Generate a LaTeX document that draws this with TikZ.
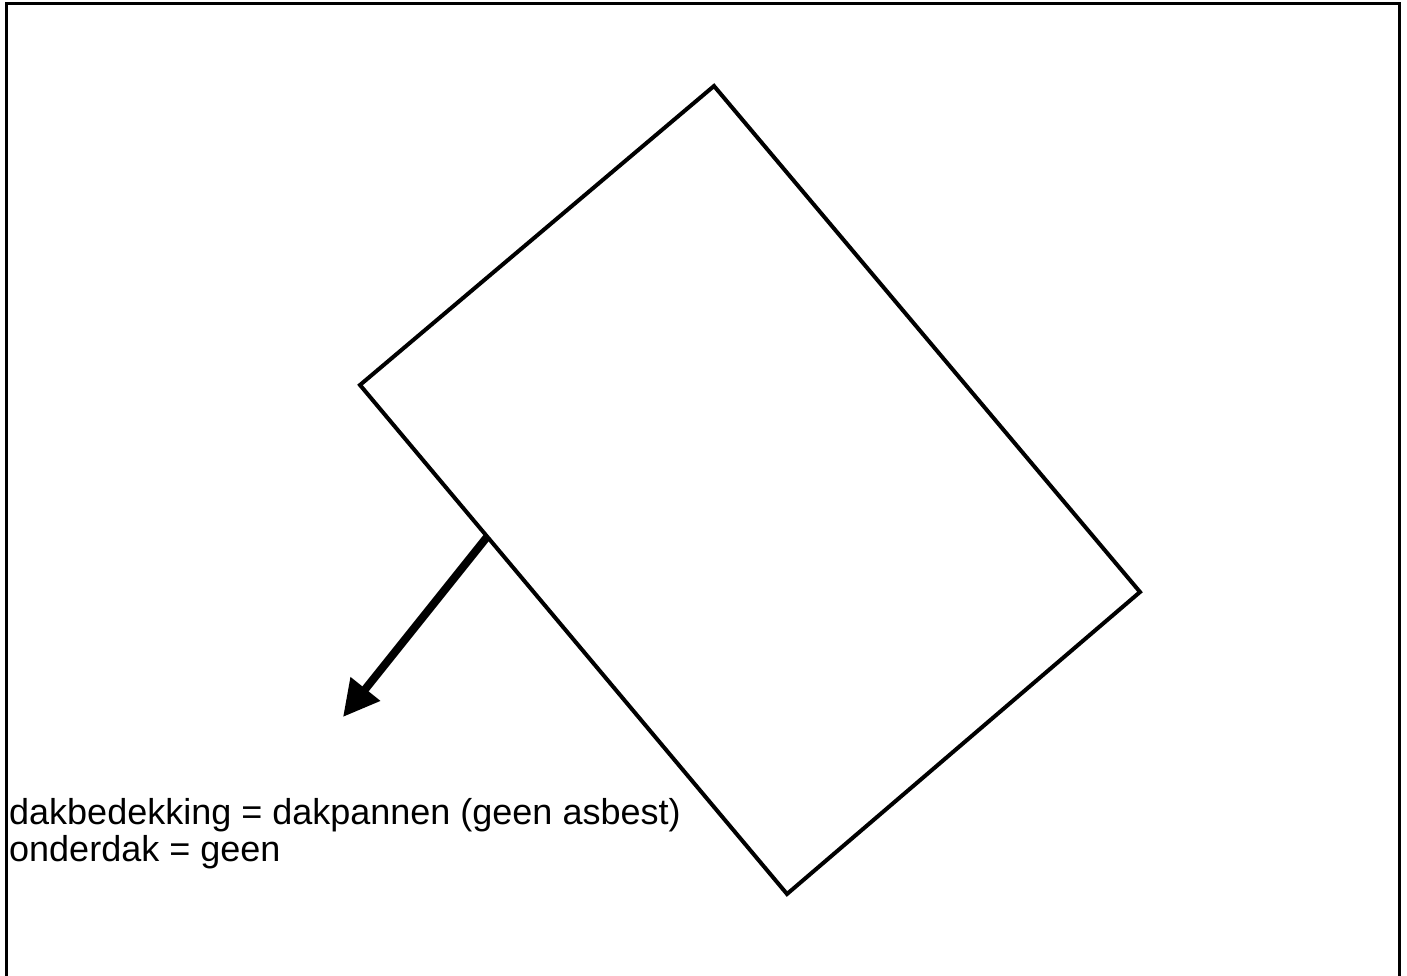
\documentclass[tikz,border=0pt]{standalone}
\usepackage{fontspec}
\setmainfont{Liberation Sans}
\usetikzlibrary{arrows.meta}
\tikzset{
  frameline/.style={line width=3pt, black},
  roofline/.style={line width=4pt, black, line join=miter},
  slopearrow/.style={line width=8pt, black, -{Triangle[length=36pt,width=36pt]}},
  label/.style={font=\fontsize{36}{37}\selectfont, align=left, inner sep=0pt, anchor=base west}
}
\begin{document}
\begin{tikzpicture}[x=1pt,y=-1pt]
\useasboundingbox (0,0) rectangle (1407,976);
\clip (0,0) rectangle (1407,976);
\coordinate (fbl) at (6,990);
\coordinate (ftl) at (6,3.5);
\coordinate (ftr) at (1399,3.5);
\coordinate (fbr) at (1399,990);
\draw[frameline] (fbl) -- (ftl) -- (ftr) -- (fbr);
\coordinate (rt) at (714,86);
\coordinate (rr) at (1140,592);
\coordinate (rb) at (787,894);
\coordinate (rl) at (360,385);
\draw[roofline] (rt) -- (rr) -- (rb) -- (rl) -- cycle;
\coordinate (as) at (487,537);
\coordinate (ae) at (343,717);
\draw[slopearrow] (as) -- (ae);
\node[label] (txt) at (9,861) {dakbedekking = dakpannen (geen asbest)\\onderdak = geen};
\end{tikzpicture}
\end{document}
